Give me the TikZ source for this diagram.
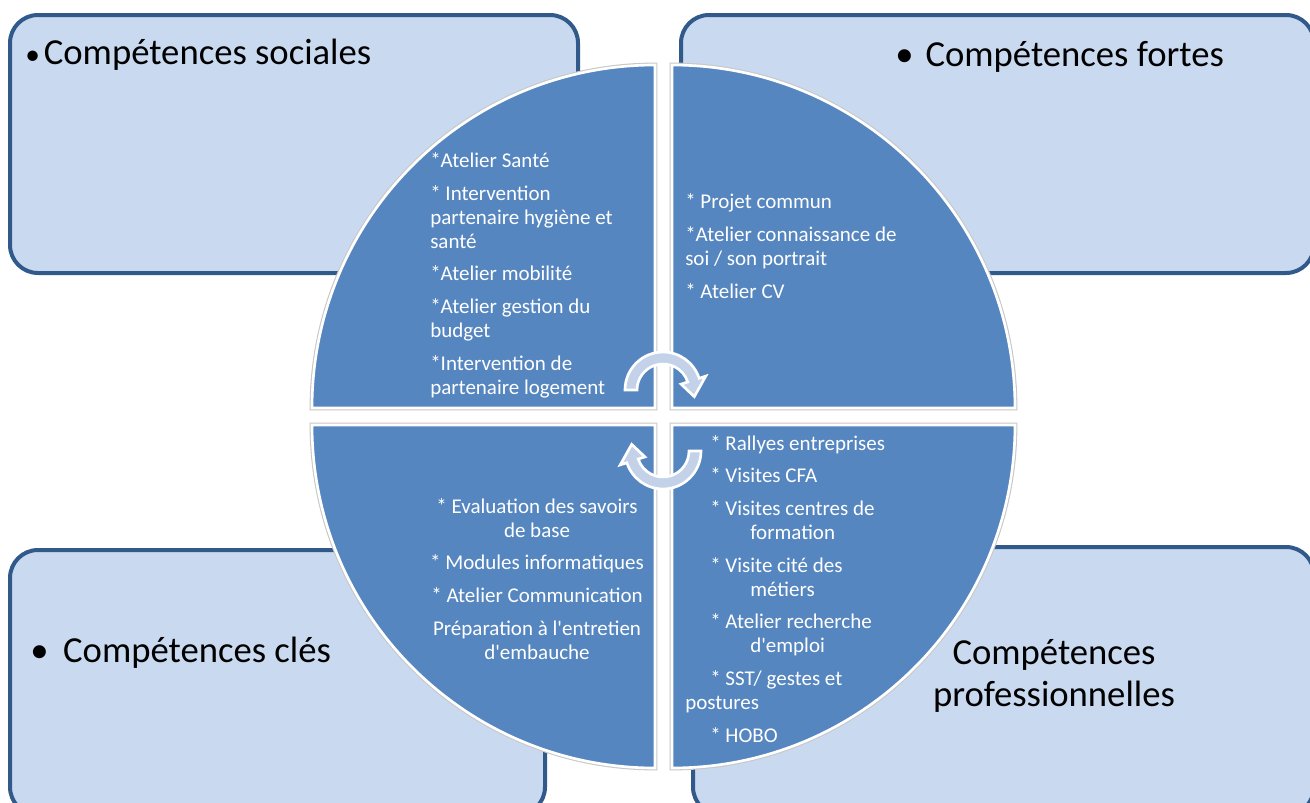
\documentclass[tikz,border=0pt]{standalone}
\usepackage{fontspec}
\setmainfont{Carlito}
\usepackage{xcolor}
\usepackage{tikz}
\usetikzlibrary{calc}

\definecolor{quadblue}{HTML}{5586C0}
\definecolor{boxfill}{HTML}{C9DAF0}
\definecolor{boxline}{HTML}{31598A}
\definecolor{arrowfill}{HTML}{C3D2E8}

\begin{document}
\begin{tikzpicture}[x=0.75pt,y=0.75pt,
  box/.style={draw=boxline,fill=boxfill,line width=3pt,rounded corners=21pt},
  quad/.style={fill=quadblue,draw=white,line width=2pt,preaction={draw=black!22,line width=3.6pt}},
  cycarrow/.style={fill=arrowfill,draw=white,line width=2pt},
  head/.style={font=\fontsize{27.5}{31.5}\selectfont,inner sep=0pt,anchor=base west},
  items/.style={font=\fontsize{15.75}{18}\selectfont,text=white,inner sep=0pt,align=left,anchor=base west}]

  \useasboundingbox (0,0) rectangle (1310,-803);
  \clip (0,0) rectangle (1310,-803);

  % the four corner panels
  \draw[box] (10,-15) rectangle (578,-273);
  \draw[box] (681,-15) rectangle (1314,-273);
  \draw[box] (10,-550) rectangle (545,-815);
  \draw[box] (693,-547) rectangle (1314,-815);

  % the split disc
  \draw[quad] (655,-408) -- (312,-408) arc[start angle=180,end angle=90,radius=343] -- cycle;
  \draw[quad] (672,-408) -- (672,-65) arc[start angle=90,end angle=0,radius=343] -- cycle;
  \draw[quad] (655,-425) -- (312,-425) arc[start angle=180,end angle=270,radius=343] -- cycle;
  \draw[quad] (672,-425) -- (1015,-425) arc[start angle=0,end angle=-90,radius=343] -- cycle;

  % turning arrows in the middle
  \coordinate (tc) at (663,-390);
  \coordinate (bc) at (663,-451);
  \draw[cycarrow] ($(tc)+(180:38)$) arc[start angle=180,end angle=18,radius=38]
    -- ($(tc)+(18:45)$) -- ($(tc)+(-12:32)$) -- ($(tc)+(18:19)$)
    -- ($(tc)+(18:26)$) arc[start angle=18,end angle=180,radius=26] -- cycle;
  \draw[cycarrow] ($(bc)+(0:38)$) arc[start angle=0,end angle=-162,radius=38]
    -- ($(bc)+(-162:45)$) -- ($(bc)+(-192:32)$) -- ($(bc)+(-162:19)$)
    -- ($(bc)+(-162:26)$) arc[start angle=-162,end angle=0,radius=26] -- cycle;

  % headings
  \node[head] at (25,-64) (socHead) {\fontsize{22}{26}\selectfont•\hspace{3pt}\fontsize{27.5}{31.5}\selectfont Compétences sociales};
  \node[head] at (895,-66) (forHead) {•\hspace{9pt}Compétences fortes};
  \node[head] at (30,-662) (cleHead) {•\hspace{11pt}Compétences clés};
  % base of a two-line node sits on its last line
  \node[head,anchor=base,align=center] at (1054,-706) (proHead) {Compétences\\professionnelles};

  % lists in the quarters (anchored on their last line)
  \node[items] at (430,-394) (socList) {*Atelier Santé\\[6.5pt]
    * Intervention\\partenaire hygiène et\\santé\\[6.5pt]
    *Atelier mobilité\\[6.5pt]
    *Atelier gestion du\\budget\\[6.5pt]
    *Intervention de\\partenaire logement};
  \node[items] at (685,-298) (forList) {* Projet commun\\[6.5pt]
    *Atelier connaissance de\\soi / son portrait\\[6.5pt]
    * Atelier CV};
  \node[items,align=center,anchor=base] at (537,-659) (cleList) {* Evaluation des savoirs\\de base\\[6.5pt]
    * Modules informatiques\\[6.5pt]
    * Atelier Communication\\[6.5pt]
    Préparation à l\textquotesingle entretien\\d\textquotesingle embauche};
  \node[items] at (685,-742) (proList) {\hspace{18.75pt}* Rallyes entreprises\\[6.5pt]
    \hspace{18.75pt}* Visites CFA\\[6.5pt]
    \hspace{18.75pt}* Visites centres de\\\hspace{48.75pt}formation\\[6.5pt]
    \hspace{18.75pt}* Visite cité des\\\hspace{48.75pt}métiers\\[6.5pt]
    \hspace{18.75pt}* Atelier recherche\\\hspace{48.75pt}d\textquotesingle emploi\\[6.5pt]
    \hspace{18.75pt}* SST/ gestes et\\postures\\[6.5pt]
    \hspace{18.75pt}* HOBO};

\end{tikzpicture}
\end{document}
